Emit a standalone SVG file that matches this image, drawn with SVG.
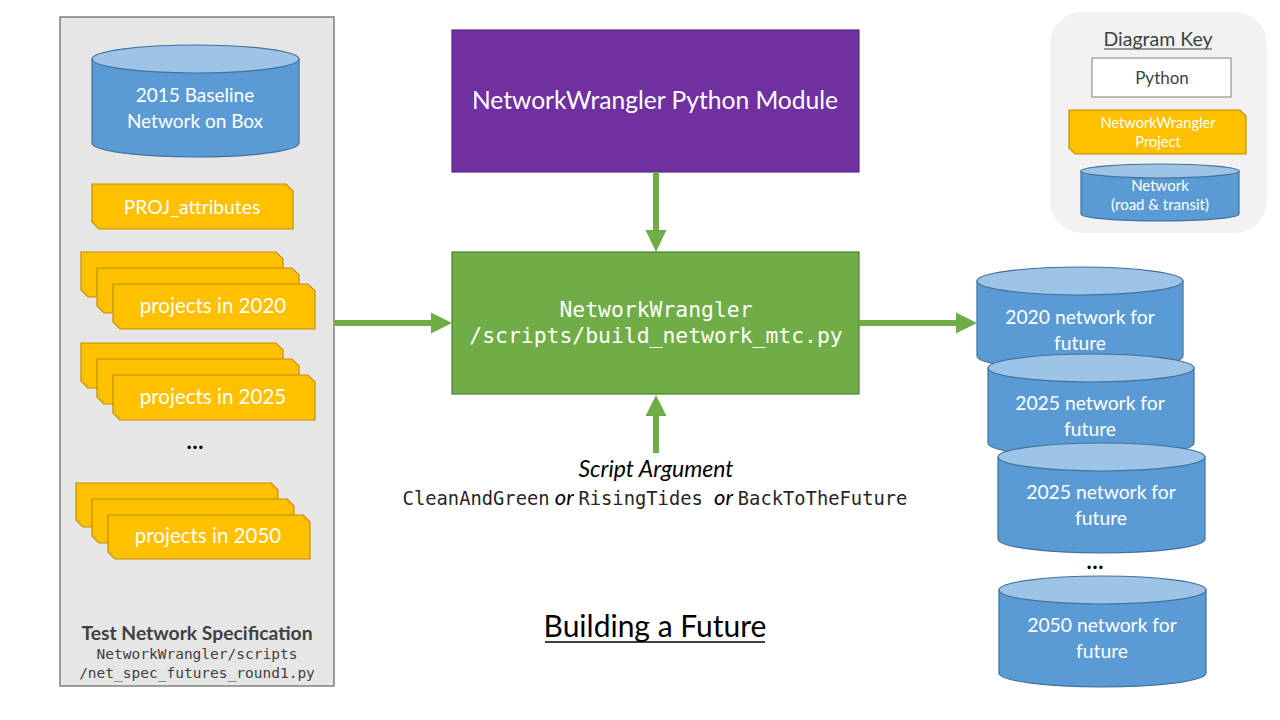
<svg xmlns="http://www.w3.org/2000/svg" width="1280" height="720" viewBox="0 0 1280 720">
<style>
.snip{fill:#ffc000;stroke:#bf9000;stroke-width:1.2}
.cylb{fill:#5b9bd5;stroke:#41719c;stroke-width:1.2}
.cylt{fill:#9dc3e6;stroke:#41719c;stroke-width:1.2}
.wt{font-family:Lato,"Open Sans",sans-serif;fill:#ffffff;text-anchor:middle}
.mono{font-family:"DejaVu Sans Mono","Liberation Mono",monospace}
.arrow{stroke:#70ad47;stroke-width:6;fill:none}
.ah{fill:#70ad47}
</style>
<rect width="1280" height="720" fill="#ffffff"/>

<g id="spec-panel">
<rect x="60" y="17" width="274" height="669" fill="#e7e6e6" stroke="#7f7f7f" stroke-width="1.5"/>
<text x="197" y="640" text-anchor="middle" font-family="Lato,sans-serif" font-weight="bold" font-size="19.3" fill="#404040">Test Network Specification</text>
<text x="197" y="659" text-anchor="middle" class="mono" font-size="14.5" fill="#404040">NetworkWrangler/scripts</text>
<text x="197" y="678" text-anchor="middle" class="mono" font-size="14.5" fill="#404040">/net_spec_futures_round1.py</text>
</g>

<g id="baseline-network">
<path class="cylb" d="M92,59 V143 A103.5,14 0 0 0 299,143 V59 Z"/>
<ellipse class="cylt" cx="195.5" cy="59" rx="103.5" ry="14"/>
<text class="wt" x="195" y="102" font-size="19">2015 Baseline</text>
<text class="wt" x="195" y="128" font-size="19">Network on Box</text>
</g>

<g id="proj-attributes">
<path class="snip" d="M92,184 H286 L293,191 V229 H99 L92,222 Z"/>
<text class="wt" x="192" y="214" font-size="19.3">PROJ_attributes</text>
</g>

<g id="projects-2020">
<path class="snip" d="M81,252 H276 L283,259 V297 H88 L81,290 Z"/>
<path class="snip" d="M97,268 H292 L299,275 V313 H104 L97,306 Z"/>
<path class="snip" d="M113,284 H308 L315,291 V329 H120 L113,322 Z"/>
<text class="wt" x="213" y="313" font-size="20.5">projects in 2020</text>
</g>

<g id="projects-2025">
<path class="snip" d="M81,343 H276 L283,350 V388 H88 L81,381 Z"/>
<path class="snip" d="M97,359 H292 L299,366 V404 H104 L97,397 Z"/>
<path class="snip" d="M113,375 H308 L315,382 V420 H120 L113,413 Z"/>
<text class="wt" x="213" y="404" font-size="20.5">projects in 2025</text>
</g>

<text x="195" y="449" text-anchor="middle" font-family="Lato,sans-serif" font-size="22" font-weight="bold" fill="#000000">…</text>

<g id="projects-2050">
<path class="snip" d="M76,483 H271 L278,490 V527 H83 L76,520 Z"/>
<path class="snip" d="M92,499 H287 L294,506 V543 H99 L92,536 Z"/>
<path class="snip" d="M108,515 H303 L310,522 V559 H115 L108,552 Z"/>
<text class="wt" x="208" y="543" font-size="20.5">projects in 2050</text>
</g>

<g id="python-module">
<rect x="452" y="30" width="407" height="142" fill="#7030a0" stroke="#5b2583" stroke-width="1.2"/>
<text class="wt" x="655" y="109" font-size="24.6">NetworkWrangler Python Module</text>
</g>

<g id="build-script">
<rect x="452" y="252" width="407" height="142" fill="#70ad47" stroke="#507e32" stroke-width="1.2"/>
<text x="656" y="317" text-anchor="middle" class="mono" font-size="21.4" fill="#ffffff">NetworkWrangler</text>
<text x="656" y="343" text-anchor="middle" class="mono" font-size="21.4" fill="#ffffff">/scripts/build_network_mtc.py</text>
</g>

<g id="script-argument">
<text x="656" y="477" text-anchor="middle" font-family="Lato,sans-serif" font-style="italic" font-size="23" fill="#000000">Script Argument</text>
<text x="655" y="505" text-anchor="middle" font-size="18.8" fill="#262626"><tspan class="mono">CleanAndGreen</tspan><tspan font-family="Lato,sans-serif" font-style="italic" font-size="22" fill="#000000"> or </tspan><tspan class="mono">RisingTides </tspan><tspan font-family="Lato,sans-serif" font-style="italic" font-size="22" fill="#000000"> or </tspan><tspan class="mono">BackToTheFuture</tspan></text>
</g>

<g id="net-2020">
<path class="cylb" d="M977,281 V356 A103,14 0 0 0 1183,356 V281 Z"/>
<ellipse class="cylt" cx="1080" cy="281" rx="103" ry="14"/>
<text class="wt" x="1080" y="324" font-size="19.3">2020 network for</text>
<text class="wt" x="1080" y="350" font-size="19.3">future</text>
</g>

<g id="net-2025a">
<path class="cylb" d="M988,368 V443 A103,14 0 0 0 1194,443 V368 Z"/>
<ellipse class="cylt" cx="1091" cy="368" rx="103" ry="14"/>
<text class="wt" x="1090" y="410" font-size="19.3">2025 network for</text>
<text class="wt" x="1090" y="436" font-size="19.3">future</text>
</g>

<g id="net-2025b">
<path class="cylb" d="M998,457 V539 A103.5,14 0 0 0 1205,539 V457 Z"/>
<ellipse class="cylt" cx="1101.5" cy="457" rx="103.5" ry="14"/>
<text class="wt" x="1101" y="499" font-size="19.3">2025 network for</text>
<text class="wt" x="1101" y="525" font-size="19.3">future</text>
</g>

<text x="1095" y="569" text-anchor="middle" font-family="Lato,sans-serif" font-size="22" font-weight="bold" fill="#000000">…</text>

<g id="net-2050">
<path class="cylb" d="M999,590 V673 A103.5,14 0 0 0 1206,673 V590 Z"/>
<ellipse class="cylt" cx="1102.5" cy="590" rx="103.5" ry="14"/>
<text class="wt" x="1102" y="632" font-size="19.3">2050 network for</text>
<text class="wt" x="1102" y="658" font-size="19.3">future</text>
</g>

<g id="connectors">
<line class="arrow" x1="656" y1="172" x2="656" y2="231"/>
<polygon class="ah" points="645.5,230 666.5,230 656,252"/>
<line class="arrow" x1="334" y1="323" x2="432" y2="323"/>
<polygon class="ah" points="431,312.5 431,333.5 452,323"/>
<line class="arrow" x1="656" y1="453" x2="656" y2="415"/>
<polygon class="ah" points="645.5,416 666.5,416 656,395"/>
<line class="arrow" x1="859" y1="323" x2="957" y2="323"/>
<polygon class="ah" points="956,312.5 956,333.5 977,323"/>
</g>

<g id="title">
<text x="655" y="637" text-anchor="middle" font-family="Lato,sans-serif" font-size="30" fill="#000000">Building a Future</text>
<line x1="545" y1="642" x2="765" y2="642" stroke="#000000" stroke-width="1.5"/>
</g>

<g id="diagram-key">
<rect x="1050" y="12" width="217" height="221" rx="32" fill="#f2f2f2"/>
<text x="1158" y="46" text-anchor="middle" font-family="Lato,sans-serif" font-size="19.5" fill="#404040">Diagram Key</text>
<line x1="1104" y1="49" x2="1212" y2="49" stroke="#404040" stroke-width="1"/>
<rect x="1092" y="58" width="139" height="39" fill="#ffffff" stroke="#7f7f7f" stroke-width="1"/>
<text x="1162" y="84" text-anchor="middle" font-family="Lato,sans-serif" font-size="17" fill="#404040">Python</text>
<path class="snip" d="M1069,110 H1240 L1246,116 V154 H1075 L1069,148 Z"/>
<text class="wt" x="1158" y="128" font-size="14.6">NetworkWrangler</text>
<text class="wt" x="1158" y="147" font-size="14.6">Project</text>
<path class="cylb" d="M1081,171 V214 A79,7 0 0 0 1239,214 V171 Z"/>
<ellipse class="cylt" cx="1160" cy="171" rx="79" ry="7"/>
<text class="wt" x="1160" y="191" font-size="15">Network</text>
<text class="wt" x="1160" y="210" font-size="15">(road &amp; transit)</text>
</g>
</svg>
